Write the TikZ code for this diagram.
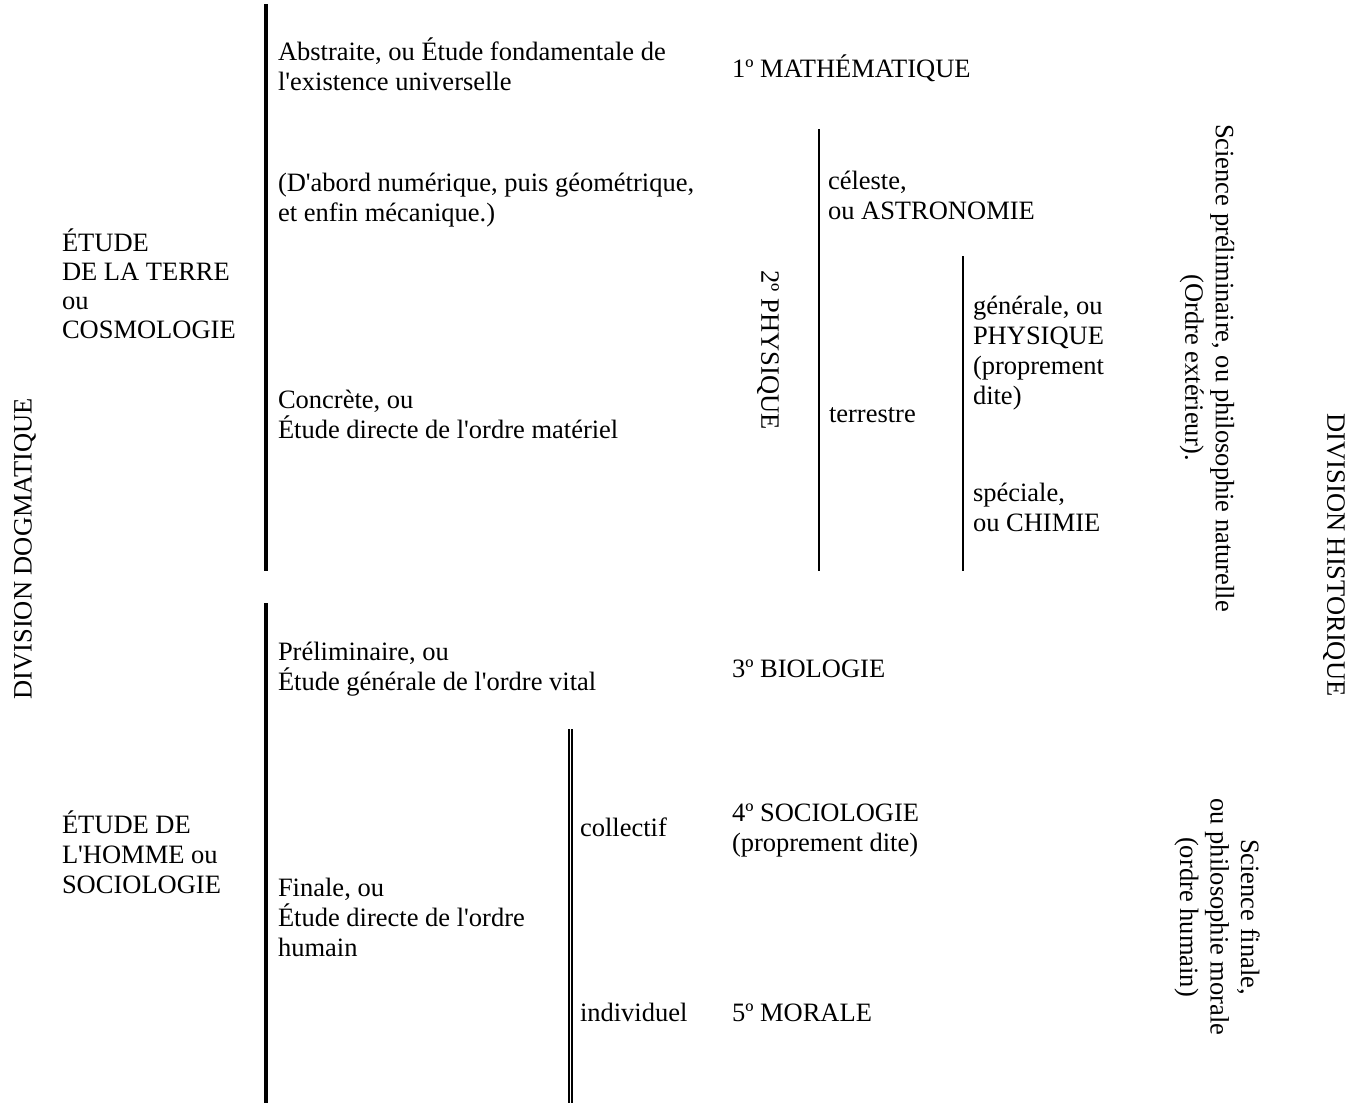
\documentclass[tikz,border=0pt]{standalone}
\usepackage{fontspec}
\setmainfont{Liberation Serif}[Ligatures=TeXOff]
\begin{document}
\begin{tikzpicture}[x=1pt,y=-1pt,
  lbl/.style={inner sep=0pt, outer sep=0pt, anchor=base west, align=left, font=\fontsize{26.5}{30}\selectfont},
  vlbl/.style={inner sep=0pt, outer sep=0pt, anchor=center, align=center, font=\fontsize{26.5}{30.5}\selectfont},
  heavybar/.style={line width=4pt},
  lightbar/.style={line width=1.8pt},
  dblbar/.style={line width=2.2pt, double=white, double distance=1.1pt, draw=black},
]
\useasboundingbox (0,0) rectangle (1361,1103);

% bars
\coordinate (b1t) at (266,4);   \coordinate (b1b) at (266,571);
\coordinate (b2t) at (266,603); \coordinate (b2b) at (266,1103);
\coordinate (dbt) at (570.3,729); \coordinate (dbb) at (570.3,1103);
\coordinate (p1t) at (819,129); \coordinate (p1b) at (819,571);
\coordinate (p2t) at (963,256); \coordinate (p2b) at (963,571);
\draw[heavybar] (b1t) -- (b1b);
\draw[heavybar] (b2t) -- (b2b);
\draw[dblbar] (dbt) -- (dbb);
\draw[lightbar] (p1t) -- (p1b);
\draw[lightbar] (p2t) -- (p2b);

% left column (multi-line nodes: base = last line baseline)
\node[vlbl, rotate=90] (dogm) at (25,549) {DIVISION DOGMATIQUE};
\node[lbl, font=\fontsize{26.5}{29}\selectfont] (terre) at (62,338) {ÉTUDE\\DE LA TERRE\\ou\\COSMOLOGIE};
\node[lbl] (homme) at (62,893) {ÉTUDE DE\\L'HOMME ou\\SOCIOLOGIE};

% second column
\node[lbl] (abst) at (278,90) {Abstraite, ou Étude fondamentale de\\l'existence universelle};
\node[lbl] (dabord) at (278,221) {(D'abord numérique, puis géométrique,\\et enfin mécanique.)};
\node[lbl] (concrete) at (278,438) {Concrète, ou\\Étude directe de l'ordre matériel};
\node[lbl] (prelim) at (278,690) {Préliminaire, ou\\Étude générale de l'ordre vital};
\node[lbl] (finale) at (278,956) {Finale, ou\\Étude directe de l'ordre\\humain};

% third column
\node[lbl] (collectif) at (580,836) {collectif};
\node[lbl] (individuel) at (580,1021) {individuel};

% sciences
\node[lbl] (math) at (732,77) {1º MATHÉMATIQUE};
\node[vlbl, rotate=-90] (phys) at (768,350) {2º PHYSIQUE};
\node[lbl] (celeste) at (828,219) {céleste,\\ou ASTRONOMIE};
\node[lbl] (terrestre) at (829,422) {terrestre};
\node[lbl] (generale) at (973,404) {générale, ou\\PHYSIQUE\\(proprement\\dite)};
\node[lbl] (speciale) at (973,531) {spéciale,\\ou CHIMIE};
\node[lbl] (bio) at (732,677) {3º BIOLOGIE};
\node[lbl] (socio) at (732,851) {4º SOCIOLOGIE\\(proprement dite)};
\node[lbl] (morale) at (732,1021) {5º MORALE};

% right column
\node[vlbl, rotate=-90] (scpre) at (1207,368) {Science préliminaire, ou philosophie naturelle\\(Ordre extérieur).};
\node[vlbl, rotate=-90] (scfin) at (1217,917) {Science finale,\\ou philosophie morale\\(ordre humain)};
\node[vlbl, rotate=-90] (hist) at (1334,555) {DIVISION HISTORIQUE};
\end{tikzpicture}
\end{document}
